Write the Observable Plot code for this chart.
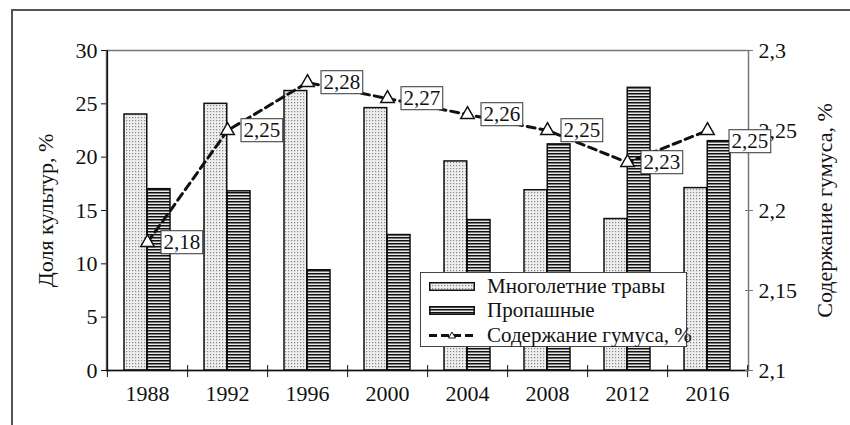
<!DOCTYPE html>
<html><head><meta charset="utf-8">
<script src="https://cdn.jsdelivr.net/npm/d3@7"></script>
<script src="https://cdn.jsdelivr.net/npm/@observablehq/plot@0.6"></script>
<style>
html,body{margin:0;padding:0;background:#fff;overflow:hidden;}
#wrap{position:relative;width:850px;height:425px;overflow:hidden;font-family:'Liberation Serif',serif;color:#111;}
#frame{position:absolute;left:11px;top:9px;width:900px;height:500px;border-top:2px solid #555;border-left:2px solid #555;}
#chart{position:absolute;left:0;top:0;}
#legend{position:absolute;left:420px;top:272px;width:267px;height:75px;border:1px solid #444;background:#fff;box-sizing:border-box;font-size:21px;font-family:'Liberation Serif',serif;}
.lrow{position:absolute;left:0;height:24px;display:flex;align-items:center;white-space:nowrap;}
.lrow svg{margin-left:8px;margin-right:12px;}
</style>
</head><body>
<div id="wrap"><div id="frame"></div><div id="chart"></div><div id="legend"></div></div>
<script>
const years = ["1988","1992","1996","2000","2004","2008","2012","2016"];
const perennialGrass = [24.0, 25.0, 26.2, 24.6, 19.6, 16.9, 14.2, 17.1];
const rowCrops = [17.0, 16.8, 9.4, 12.7, 14.1, 21.2, 26.5, 21.5];
const humus = [2.18, 2.25, 2.28, 2.27, 2.26, 2.25, 2.23, 2.25];
const leftTicks = [0, 5, 10, 15, 20, 25, 30];
const rightTicks = [2.1, 2.15, 2.2, 2.25, 2.3];
const seriesNames = ["Многолетние травы", "Пропашные", "Содержание гумуса, %"];
const axisTitles = ["Доля культур, %", "Содержание гумуса, %"];

const W = 850, H = 425, mL = 106, mR = 102, mT = 50, mB = 55;
const step = (W - mL - mR) / years.length;
const hMin = rightTicks[0], hMax = rightTicks[rightTicks.length - 1];
const yMax = leftTicks[leftTicks.length - 1];
const toY = h => (h - hMin) / (hMax - hMin) * yMax;
const fromY = v => Math.round((hMin + v / yMax * (hMax - hMin)) * 1000) / 1000;
const fmt = v => String(v).replace(".", ",");
const rows = years.map((y, i) => ({year: y, grass: perennialGrass[i], crops: rowCrops[i], humus: humus[i], i}));
const barW = 23, outer = 17;
const ink = "#111";
const serif = "'Liberation Serif', serif";

const chart = Plot.plot({
  width: W, height: H, marginLeft: mL, marginRight: mR, marginTop: mT, marginBottom: mB,
  style: {fontFamily: serif, fontSize: "22px", color: ink, background: "transparent"},
  x: {domain: years, padding: 0, label: null},
  y: {domain: [0, yMax], label: null},
  marks: [
    Plot.frame({stroke: "#777", strokeWidth: 1.5}),
    Plot.barY(rows, {x: "year", y: "grass", fill: "url(#dotsPat)", stroke: ink, strokeWidth: 1.5, insetLeft: outer, insetRight: step - outer - barW}),
    Plot.barY(rows, {x: "year", y: "crops", fill: "url(#stripePat)", stroke: ink, strokeWidth: 1.5, insetLeft: step - outer - barW, insetRight: outer}),
    Plot.ruleY([0], {stroke: ink, strokeWidth: 1.5}),
    Plot.ruleX([years[0]], {dx: -step / 2, stroke: ink, strokeWidth: 1.5}),
    Plot.axisX({tickSize: 0, tickPadding: 15, fontSize: 22, fontFamily: serif, label: null}),
    Plot.axisX({ticks: years, tickSize: 12, dy: -5, dx: step / 2, tickFormat: () => "", stroke: ink, label: null}),
    Plot.axisX({ticks: [years[0]], tickSize: 12, dy: -5, dx: -step / 2, tickFormat: () => "", stroke: ink, label: null}),
    Plot.axisY({ticks: leftTicks, tickSize: 5, tickPadding: 4, fontSize: 22, fontFamily: serif, label: null}),
    Plot.axisY({anchor: "right", ticks: rightTicks.map(toY), tickFormat: v => fmt(fromY(v)), tickSize: 8, dx: -4, tickPadding: 6, fontSize: 22, fontFamily: serif, stroke: "#777", label: null}),
    Plot.text([axisTitles[0]], {frameAnchor: "left", textAnchor: "middle", dx: -61, rotate: -90, text: d => d, fontSize: 22, fontFamily: serif}),
    Plot.text([axisTitles[1]], {frameAnchor: "right", textAnchor: "middle", dx: 76, rotate: -90, text: d => d, fontSize: 22, fontFamily: serif}),
    Plot.line(rows, {x: "year", y: d => toY(d.humus), stroke: ink, strokeWidth: 3, strokeDasharray: "8,5"}),
    Plot.dot(rows, {x: "year", y: d => toY(d.humus), symbol: "triangle", r: 5, fill: "white", stroke: ink, strokeWidth: 1.5}),
    Plot.text(rows.filter(d => d.i < years.length - 1), {x: "year", y: d => toY(d.humus), text: d => fmt(d.humus), textAnchor: "start", dx: 16, fontSize: 21, fontFamily: serif, className: "humuslab"}),
    Plot.text(rows.filter(d => d.i === years.length - 1), {x: "year", y: d => toY(d.humus), text: d => fmt(d.humus), textAnchor: "start", dx: 24, dy: 11, fontSize: 21, fontFamily: serif, className: "humuslab"})
  ]
});
document.getElementById("chart").appendChild(chart);

const NS = "http://www.w3.org/2000/svg";
chart.insertAdjacentHTML("afterbegin", `<defs>
<pattern id="dotsPat" width="3" height="3" patternUnits="userSpaceOnUse">
<rect width="3" height="3" fill="#eeeeee"/><rect x="0" y="0" width="1.2" height="1.2" fill="#888"/></pattern>
<pattern id="stripePat" width="3" height="3" patternUnits="userSpaceOnUse">
<rect width="3" height="3" fill="#e8e8e8"/><rect x="0" y="0" width="3" height="1.5" fill="#111"/></pattern>
</defs>`);

let labTexts = [...chart.querySelectorAll(".humuslab text")];
if (!labTexts.length) {
  const labels = new Set(humus.map(fmt));
  labTexts = [...chart.querySelectorAll("text")].filter(t => labels.has(t.textContent) && t.getAttribute("text-anchor") !== "end" && !t.closest('g[aria-label*="axis"]'));
}
labTexts.forEach(t => {
  const bb = t.getBBox();
  const r = document.createElementNS(NS, "rect");
  r.setAttribute("x", bb.x - 2.5);
  r.setAttribute("y", bb.y + 0.5);
  r.setAttribute("width", bb.width + 5);
  r.setAttribute("height", bb.height - 1);
  r.setAttribute("fill", "white");
  r.setAttribute("stroke", "#333");
  r.setAttribute("stroke-width", "1");
  const tr = t.getAttribute("transform");
  if (tr) r.setAttribute("transform", tr);
  t.parentNode.insertBefore(r, t);
});

// legend
const legend = document.getElementById("legend");
const swatches = [
  `<svg width="46" height="9"><rect x="0.75" y="0.75" width="44.5" height="7.5" fill="url(#dotsPat)" stroke="${ink}" stroke-width="1.5"/></svg>`,
  `<svg width="46" height="9"><rect x="0.75" y="0.75" width="44.5" height="7.5" fill="url(#stripePat)" stroke="${ink}" stroke-width="1.5"/></svg>`,
  `<svg width="46" height="9"><line x1="0" y1="4.5" x2="46" y2="4.5" stroke="${ink}" stroke-width="3" stroke-dasharray="8,4"/><path d="M23,1 L26.5,7 L19.5,7 Z" fill="white" stroke="${ink}" stroke-width="1"/></svg>`
];
const rowTops = [1, 25, 50];
seriesNames.forEach((name, i) => {
  const row = document.createElement("div");
  row.className = "lrow";
  row.style.top = rowTops[i] + "px";
  row.innerHTML = swatches[i] + `<span>${name}</span>`;
  legend.appendChild(row);
});
</script>
</body></html>
